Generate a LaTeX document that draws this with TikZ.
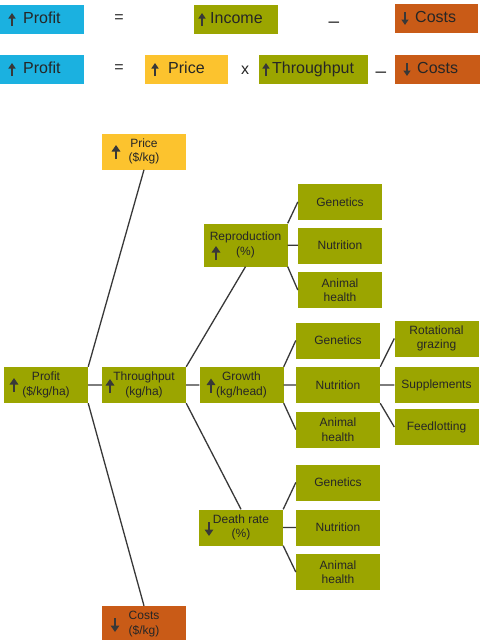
\documentclass[tikz,border=0pt]{standalone}
\usepackage{fontspec}
\setmainfont{Liberation Sans}
\usetikzlibrary{arrows.meta}
\definecolor{cyanbg}{HTML}{1BB1E0}
\definecolor{olivebg}{HTML}{9BA500}
\definecolor{yellowbg}{HTML}{FCC32E}
\definecolor{orangebg}{HTML}{C95B17}
\definecolor{inktext}{HTML}{262626}
\definecolor{inkline}{HTML}{383838}
\tikzset{
  arrowmark/.style={draw=inkline, line width=2.6pt, -{Triangle[width=8.5pt,length=6.5pt]}},
  smallmark/.style={draw=inkline, line width=2.2pt, -{Triangle[width=7pt,length=5.5pt]}},
  uparr/.pic={\draw[arrowmark] (0,7) -- (0,-7);},
  downarr/.pic={\draw[arrowmark] (0,-7) -- (0,7);},
  topup/.pic={\draw[smallmark] (0,6.5) -- (0,-6.5);},
  topdown/.pic={\draw[smallmark] (0,-6.5) -- (0,6.5);}
}
\begin{document}
\begin{tikzpicture}[x=1pt, y=-1pt,
    topbox/.style={anchor=west, inner sep=0pt, minimum height=29pt, align=left,
      text height=11.5pt, text depth=3.5pt, text=inktext, font=\fontsize{16}{19}\selectfont},
    op/.style={inner sep=0pt, text=inktext, font=\fontsize{16}{19}\selectfont},
    dashop/.style={op, font=\fontsize{19}{22}\selectfont},
    tbox/.style={inner sep=0pt, minimum width=84pt, minimum height=36pt, align=center,
      text=inktext, font=\fontsize{12}{14.5}\selectfont},
    link/.style={draw=inkline, line width=1.3pt}]
  \useasboundingbox (0,0) rectangle (480,640);

  \node[topbox, fill=cyanbg, text width=84pt] (prof1) at (0,19.5) {\hspace*{23pt}Profit};
  \node[op] (eq1) at (119,19) {=};
  \node[topbox, fill=olivebg, text width=84pt] (inc) at (194,19.5) {\hspace*{16pt}Income};
  \node[dashop] (minus1) at (334,24.5) {--};
  \node[topbox, fill=orangebg, text width=83pt] (cost1) at (395,18.5) {\hspace*{20pt}Costs};
  \node[topbox, fill=cyanbg, text width=84pt] (prof2) at (0,69.5) {\hspace*{23pt}Profit};
  \node[op] (eq2) at (119,69) {=};
  \node[topbox, fill=yellowbg, text width=83pt] (price1) at (145,69.5) {\hspace*{23pt}Price};
  \node[op] (times) at (245,70) {x};
  \node[topbox, fill=olivebg, text width=109pt] (thr1) at (259,69.5) {\hspace*{13pt}Throughput};
  \node[dashop] (minus2) at (381,75) {--};
  \node[topbox, fill=orangebg, text width=85pt] (cost2) at (395,69.5) {\hspace*{22pt}Costs};
  \pic at (12,19.5) {topup};
  \pic at (202,19.5) {topup};
  \pic at (405,18.5) {topdown};
  \pic at (12,69.5) {topup};
  \pic at (155,69.5) {topup};
  \pic at (266,69.5) {topup};
  \pic at (407,69.5) {topdown};

  \node[tbox, fill=yellowbg] (price) at (144,151.5) {Price\\(\$/kg)};
  \node[tbox, fill=olivebg] (profit) at (46,385) {Profit\\(\$/kg/ha)};
  \node[tbox, fill=olivebg] (thr) at (144,385) {Throughput\\(kg/ha)};
  \node[tbox, fill=orangebg] (costs) at (144,624) {Costs\\(\$/kg)};
  \node[tbox, fill=olivebg, minimum height=43pt] (repro) at (245.5,245) {Reproduction\\(\%)};
  \node[tbox, fill=olivebg] (growth) at (241.5,385) {Growth\\(kg/head)};
  \node[tbox, fill=olivebg] (death) at (241,527.5) {Death rate\\(\%)};
  \node[tbox, fill=olivebg] (gen1) at (340,202) {Genetics};
  \node[tbox, fill=olivebg] (nut1) at (340,245.5) {Nutrition};
  \node[tbox, fill=olivebg] (ani1) at (340,290) {Animal\\health};
  \node[tbox, fill=olivebg] (gen2) at (338,340.5) {Genetics};
  \node[tbox, fill=olivebg] (nut2) at (338,385) {Nutrition};
  \node[tbox, fill=olivebg] (ani2) at (338,429.5) {Animal\\health};
  \node[tbox, fill=olivebg] (gen3) at (338,482.5) {Genetics};
  \node[tbox, fill=olivebg] (nut3) at (338,527.5) {Nutrition};
  \node[tbox, fill=olivebg] (ani3) at (338,572) {Animal\\health};
  \node[tbox, fill=olivebg] (rot) at (436.5,338.5) {Rotational\\grazing};
  \node[tbox, fill=olivebg] (supp) at (436.5,385) {Supplements};
  \node[tbox, fill=olivebg] (feed) at (436.5,427) {Feedlotting};
  \pic at (116,152) {uparr};
  \pic at (14,385) {uparr};
  \pic at (110,386) {uparr};
  \pic at (211,385.5) {uparr};
  \pic at (216,253) {uparr};
  \pic at (209,529) {downarr};
  \pic at (115,625) {downarr};

  \draw[link] (profit.north east) -- (price.south)
              (profit.south east) -- (costs.north)
              (profit) -- (thr)
              (thr.north east) -- (repro.south)
              (thr) -- (growth)
              (thr.south east) -- (death.north);
  \draw[link] (repro.north east) -- (gen1.west)
              (repro) -- (nut1)
              (repro.south east) -- (ani1.west)
              (growth.north east) -- (gen2.west)
              (growth) -- (nut2)
              (growth.south east) -- (ani2.west)
              (death.north east) -- (gen3.west)
              (death) -- (nut3)
              (death.south east) -- (ani3.west)
              (nut2.north east) -- (rot.west)
              (nut2) -- (supp)
              (nut2.south east) -- (feed.west);
\end{tikzpicture}
\end{document}
